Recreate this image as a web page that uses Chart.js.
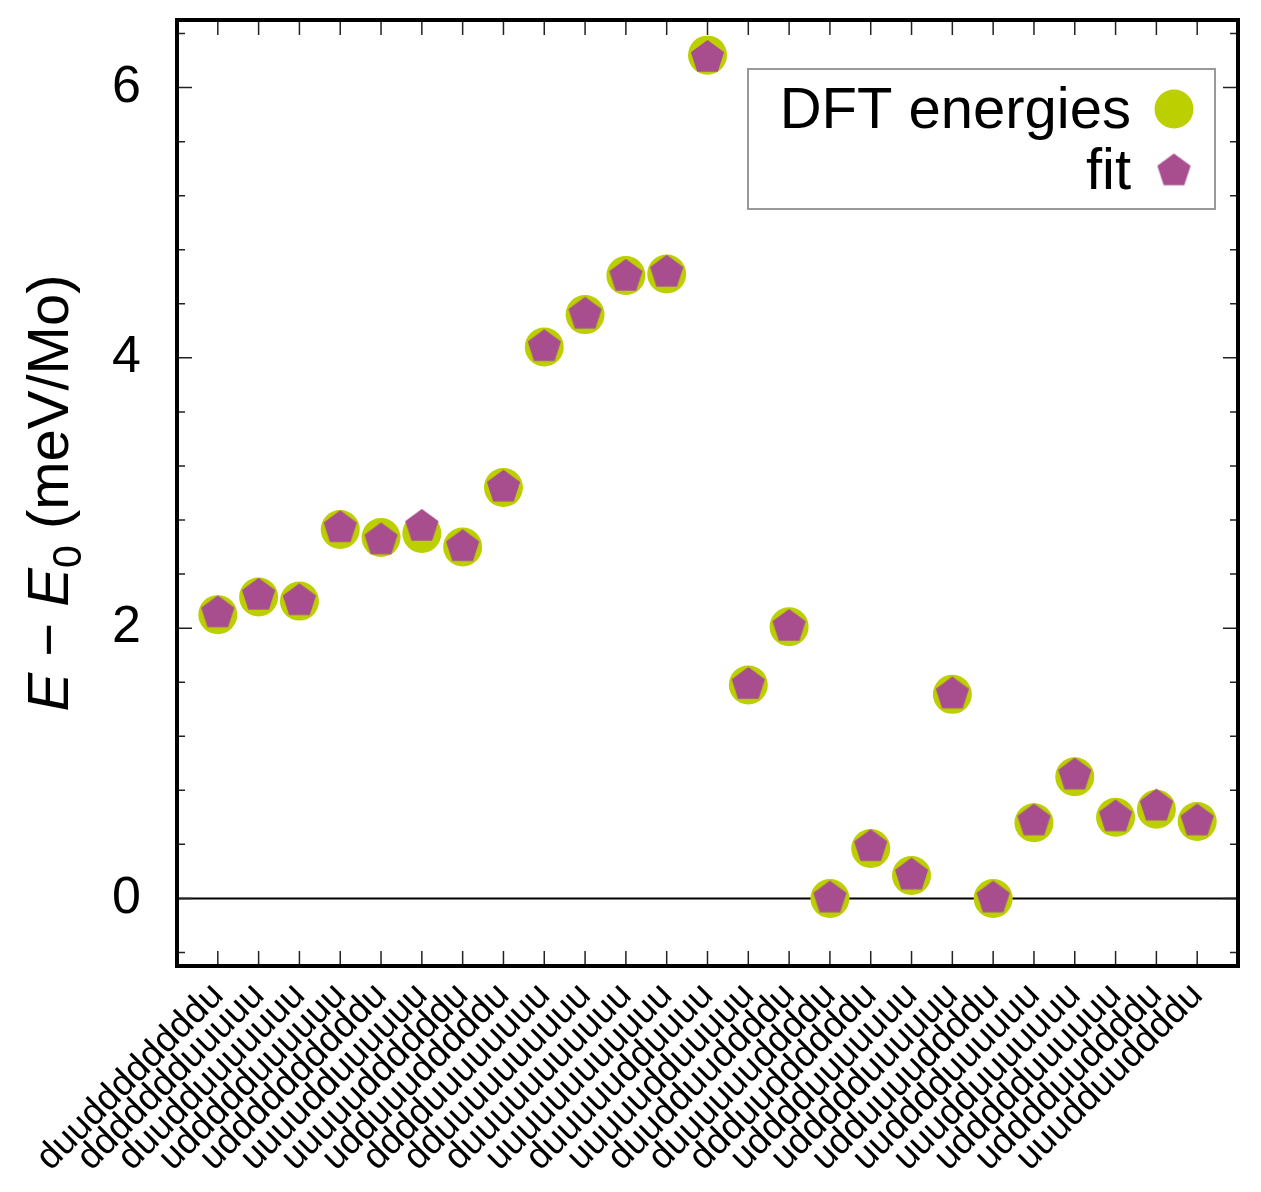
<!DOCTYPE html>
<html>
<head>
<meta charset="utf-8">
<script src="https://cdn.jsdelivr.net/npm/chart.js@4.4.1/dist/chart.umd.min.js"></script>
<style>
  html, body { margin: 0; padding: 0; background: #fff; }
  #wrap { width: 1261px; height: 1192px; }
</style>
</head>
<body>
<div id="wrap"><canvas id="energy-chart" width="1261" height="1192"></canvas></div>
<script>
// spin configurations (x categories)
const configs = [
    'duuddddddddu', 'ddddddduuuuu', 'duudduuuuuuu', 'uddddduuuuuu', 'uddddddddddu',
    'uuuudduuuuuu', 'uuuuuddddddu', 'udduuudddddu', 'dddduuuuuuuu', 'dduuuuuuuuuu',
    'duuuuuuuuuuu', 'uuuuuuuuuuuu', 'duuuuudduuuu', 'uuuuudduuuuu', 'duudduuddddu',
    'duuuuuuddddu', 'ddduuddddddu', 'udddduuuuuuu', 'uddddduuuuuu', 'udduuuuddddu',
    'uudddduuuuuu', 'uuudduuuuuuu', 'uddddduuuuuu', 'udddduuddddu', 'uuudduuddddu'
];

// E - E0 in meV/Mo
const dftEnergies = [
    2.10, 2.23, 2.20, 2.73, 2.67, 2.70, 2.60, 3.04, 4.08, 4.32, 4.61, 4.62, 6.24,
    1.58, 2.01, 0.00, 0.37, 0.17, 1.51, 0.00, 0.56, 0.90, 0.60, 0.66, 0.57
];
const fitEnergies = [
    2.12, 2.25, 2.21, 2.75, 2.66, 2.76, 2.61, 3.05, 4.09, 4.33, 4.61, 4.64, 6.23,
    1.59, 2.02, 0.01, 0.39, 0.18, 1.52, 0.01, 0.58, 0.92, 0.61, 0.69, 0.58
];

// y axis ticks
const yLabelTicks = [0, 2, 4, 6];
const yMinorTicks = [-0.4, 0.4, 0.8, 1.2, 1.6, 2.4, 2.8, 3.2, 3.6, 4.4, 4.8, 5.2, 5.6, 6.4];

const GREEN = '#bccf00';
const PURPLE = '#a84e8f';
const FONT = "'Liberation Sans', Arial, Helvetica, sans-serif";

function makePentagon(r, color) {
    const c = document.createElement('canvas');
    const s = Math.ceil(r * 2 + 2);
    c.width = s;
    c.height = s;
    const g = c.getContext('2d');
    g.fillStyle = color;
    g.beginPath();
    for (let i = 0; i < 5; i++) {
        const a = -Math.PI / 2 + i * 2 * Math.PI / 5;
        const px = s / 2 + r * Math.cos(a);
        const py = s / 2 + r * 0.06 + r * Math.sin(a);
        if (i === 0) g.moveTo(px, py); else g.lineTo(px, py);
    }
    g.closePath();
    g.fill();
    return c;
}
const pentagon = makePentagon(17.5, PURPLE);

// frame, inward ticks and the zero line
const framePlugin = {
    id: 'frame',
    beforeDatasetsDraw(chart) {
        const { ctx, chartArea: a, scales } = chart;
        const y0 = scales.y.getPixelForValue(0);
        ctx.save();
        ctx.strokeStyle = '#000';
        ctx.lineWidth = 2;
        ctx.beginPath();
        ctx.moveTo(a.left, y0);
        ctx.lineTo(a.right, y0);
        ctx.stroke();
        ctx.restore();
    },
    afterDatasetsDraw(chart) {
        const { ctx, chartArea: a, scales } = chart;
        ctx.save();
        ctx.strokeStyle = '#222';
        ctx.lineWidth = 1.5;
        ctx.beginPath();
        for (let i = 1; i <= configs.length; i++) {
            const x = scales.x.getPixelForValue(i);
            ctx.moveTo(x, a.bottom); ctx.lineTo(x, a.bottom - 15);
            ctx.moveTo(x, a.top); ctx.lineTo(x, a.top + 15);
        }
        yLabelTicks.forEach(v => {
            const y = scales.y.getPixelForValue(v);
            ctx.moveTo(a.left, y); ctx.lineTo(a.left + 15, y);
            ctx.moveTo(a.right, y); ctx.lineTo(a.right - 15, y);
        });
        yMinorTicks.forEach(v => {
            const y = scales.y.getPixelForValue(v);
            ctx.moveTo(a.left, y); ctx.lineTo(a.left + 8, y);
            ctx.moveTo(a.right, y); ctx.lineTo(a.right - 8, y);
        });
        ctx.stroke();
        ctx.strokeStyle = '#000';
        ctx.lineWidth = 4;
        ctx.strokeRect(a.left, a.top, a.right - a.left, a.bottom - a.top);
        ctx.restore();
    }
};

// y title with italic E and subscript 0
const yTitlePlugin = {
    id: 'yTitle',
    afterDraw(chart) {
        const { ctx, chartArea: a } = chart;
        const size = 58;
        const parts = [
            { t: 'E', f: `italic ${size}px ${FONT}`, dy: 0 },
            { t: ' \u2212 ', f: `${size}px ${FONT}`, dy: 0 },
            { t: 'E', f: `italic ${size}px ${FONT}`, dy: 0 },
            { t: '0', f: `${Math.round(size * 0.7)}px ${FONT}`, dy: size * 0.22 },
            { t: ' (meV/Mo)', f: `${size}px ${FONT}`, dy: 0 }
        ];
        ctx.save();
        let total = 0;
        parts.forEach(p => { ctx.font = p.f; p.w = ctx.measureText(p.t).width; total += p.w; });
        ctx.translate(68, (a.top + a.bottom) / 2);
        ctx.rotate(-Math.PI / 2);
        ctx.fillStyle = '#000';
        ctx.textBaseline = 'alphabetic';
        let x = -total / 2;
        parts.forEach(p => {
            ctx.font = p.f;
            ctx.fillText(p.t, x, p.dy);
            x += p.w;
        });
        ctx.restore();
    }
};

// legend box in the top right
const legendPlugin = {
    id: 'boxLegend',
    afterDraw(chart) {
        const { ctx } = chart;
        ctx.save();
        ctx.strokeStyle = '#999';
        ctx.lineWidth = 2;
        ctx.strokeRect(748, 69, 467, 140);
        ctx.fillStyle = '#000';
        ctx.font = `58px ${FONT}`;
        ctx.textAlign = 'right';
        ctx.fillText(chart.data.datasets[1].label, 1131, 128);
        ctx.fillText(chart.data.datasets[0].label, 1131, 189);
        ctx.fillStyle = GREEN;
        ctx.beginPath();
        ctx.arc(1174, 109, 19.5, 0, Math.PI * 2);
        ctx.fill();
        ctx.drawImage(pentagon, 1174 - pentagon.width / 2, 170 - pentagon.height / 2);
        ctx.restore();
    }
};

const ctx = document.getElementById('energy-chart').getContext('2d');

new Chart(ctx, {
    type: 'scatter',
    data: {
        datasets: [
            {
                label: 'fit',
                data: fitEnergies.map((v, i) => ({ x: i + 1, y: v })),
                pointStyle: pentagon,
                backgroundColor: PURPLE,
                order: 0,
            },
            {
                label: 'DFT energies',
                data: dftEnergies.map((v, i) => ({ x: i + 1, y: v })),
                pointStyle: 'circle',
                pointRadius: 19.5,
                backgroundColor: GREEN,
                borderWidth: 0,
                order: 1,
            },
        ],
    },
    options: {
        responsive: false,
        animation: false,
        layout: { padding: { top: 20, right: 23, left: 0, bottom: 0 } },
        scales: {
            x: {
                type: 'linear',
                min: 0,
                max: configs.length + 1,
                grid: { display: false, drawTicks: false },
                border: { display: false },
                afterFit: (scale) => {
                    scale.height = 226;
                    scale.paddingLeft = 0;
                    scale.paddingRight = 0;
                },
                afterBuildTicks: (scale) => {
                    scale.ticks = configs.map((_, i) => ({ value: i + 1 }));
                },
                ticks: {
                    autoSkip: false,
                    minRotation: 45,
                    maxRotation: 45,
                    padding: 8,
                    color: '#000',
                    font: { family: FONT, size: 37 },
                    callback: (value) => configs[value - 1] || '',
                },
            },
            y: {
                min: -0.5,
                max: 6.5,
                grid: { display: false, drawTicks: false },
                border: { display: false },
                afterFit: (scale) => {
                    scale.width = 177;
                    scale.paddingTop = 0;
                    scale.paddingBottom = 0;
                },
                afterBuildTicks: (scale) => {
                    scale.ticks = yLabelTicks.map(v => ({ value: v }));
                },
                ticks: {
                    padding: 36,
                    color: '#000',
                    font: { family: FONT, size: 52 },
                    callback: (value) => String(value),
                },
            },
        },
        plugins: {
            legend: { display: false },
            tooltip: { enabled: false },
        },
    },
    plugins: [framePlugin, yTitlePlugin, legendPlugin],
});
</script>
</body>
</html>
